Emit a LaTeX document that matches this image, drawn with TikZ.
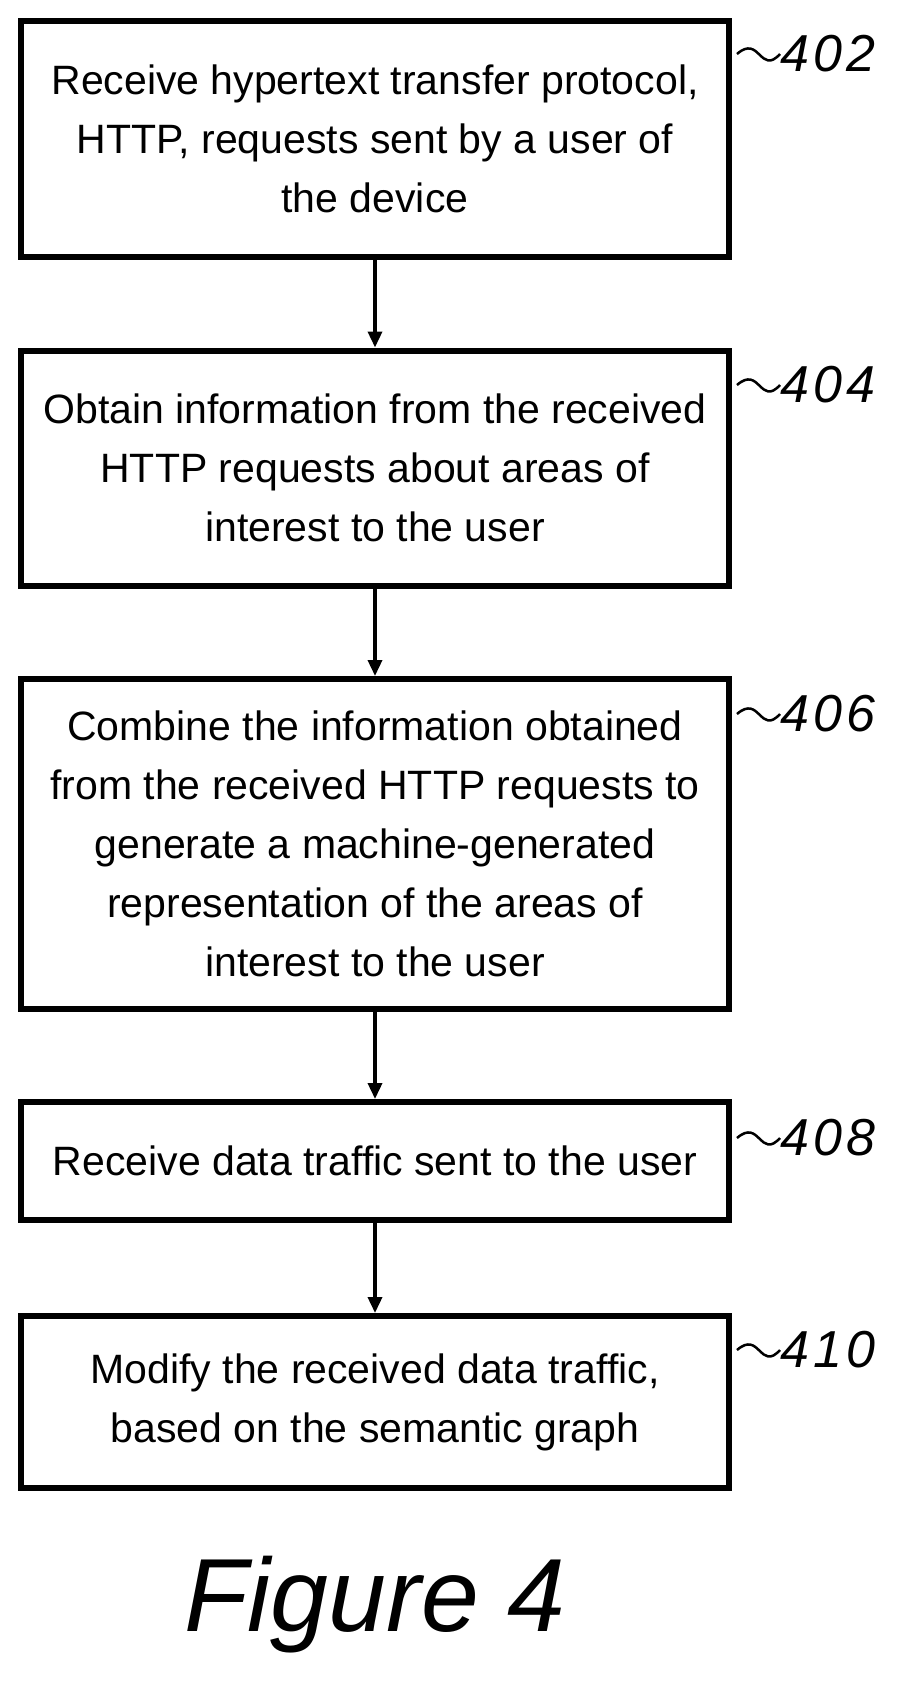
\documentclass[tikz,border=0pt]{standalone}
\usepackage{fontspec}
\setmainfont{Liberation Sans}
\newfontfamily\lblfont[LetterSpace=8]{Liberation Sans}
\usetikzlibrary{arrows.meta}
\begin{document}
\begin{tikzpicture}[x=1pt,y=-1pt,
  box/.style={draw,line width=6pt,align=center,font=\fontsize{41}{59}\selectfont,inner sep=0},
  lbl/.style={font=\lblfont\fontsize{52}{54}\selectfont\itshape,anchor=west,inner sep=0},
  arr/.style={-{Triangle[length=16pt,width=14pt]},line width=3.5pt}]
\useasboundingbox (0,0) rectangle (910,1688);
\node[box,minimum width=708pt,minimum height=236pt] (b1) at (375,139) {Receive hypertext transfer protocol,\\HTTP, requests sent by a user of\\the device};
\node[box,minimum width=708pt,minimum height=235pt] (b2) at (375,468) {Obtain information from the received\\HTTP requests about areas of\\interest to the user};
\node[box,minimum width=708pt,minimum height=330pt] (b3) at (375,844) {Combine the information obtained\\from the received HTTP requests to\\generate a machine-generated\\representation of the areas of\\interest to the user};
\node[box,minimum width=708pt,minimum height=118pt] (b4) at (375,1161) {Receive data traffic sent to the user};
\node[box,minimum width=708pt,minimum height=172pt] (b5) at (375,1402) {Modify the received data traffic,\\based on the semantic graph};
\draw[arr] (b1) -- (b2);
\draw[arr] (b2) -- (b3);
\draw[arr] (b3) -- (b4);
\draw[arr] (b4) -- (b5);
\foreach \b/\y/\t in {b1/54/402,b2/385/404,b3/714/406,b4/1138/408,b5/1350/410}{
  \coordinate (s\t) at (737,\y);
  \node[lbl] (l\t) at (780,\y) {\t};
  \draw[line width=2.5pt] (s\t) .. controls (760,\y-20) and (760,\y+22) .. (l\t.west);
}
\node[font=\fontsize{104}{110}\selectfont\itshape] (fig) at (375,1605) {Figure 4};
\end{tikzpicture}
\end{document}
